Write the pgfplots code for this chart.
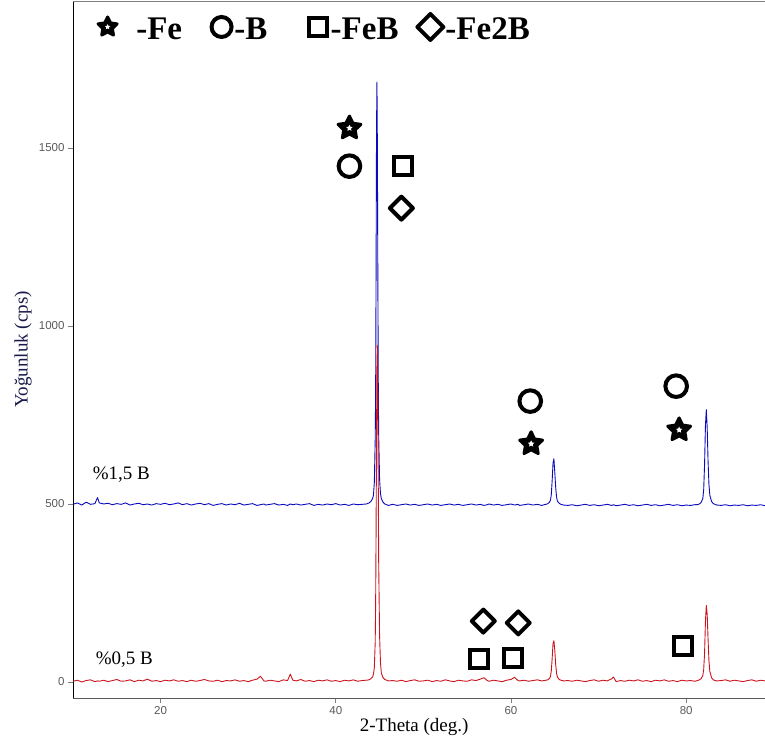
\documentclass[border=0pt]{standalone}
\usepackage{fontspec}
\setmainfont{Liberation Serif}
\newfontfamily\arialf{Liberation Sans}
\usepackage{pgfplots}
\pgfplotsset{compat=1.18}
\usepackage{pgfplotstable}
\definecolor{cblue}{RGB}{10,10,190}
\definecolor{cred}{RGB}{205,20,30}
\definecolor{ylab}{RGB}{25,25,75}

\pgfdeclareplotmark{fstar}{%
  \pgfsetroundjoin
  \pgfsetfillcolor{black}%
  \pgfpathmoveto{\pgfpointpolar{90}{\pgfplotmarksize}}%
  \pgfpathlineto{\pgfpointpolar{126}{0.5\pgfplotmarksize}}%
  \pgfpathlineto{\pgfpointpolar{162}{\pgfplotmarksize}}%
  \pgfpathlineto{\pgfpointpolar{198}{0.5\pgfplotmarksize}}%
  \pgfpathlineto{\pgfpointpolar{234}{\pgfplotmarksize}}%
  \pgfpathlineto{\pgfpointpolar{270}{0.5\pgfplotmarksize}}%
  \pgfpathlineto{\pgfpointpolar{306}{\pgfplotmarksize}}%
  \pgfpathlineto{\pgfpointpolar{342}{0.5\pgfplotmarksize}}%
  \pgfpathlineto{\pgfpointpolar{18}{\pgfplotmarksize}}%
  \pgfpathlineto{\pgfpointpolar{54}{0.5\pgfplotmarksize}}%
  \pgfpathclose
  \pgfusepathqfillstroke
  \pgfsetfillcolor{white}%
  \pgfpathmoveto{\pgfpointpolar{90}{0.28\pgfplotmarksize}}%
  \pgfpathlineto{\pgfpointpolar{126}{0.14\pgfplotmarksize}}%
  \pgfpathlineto{\pgfpointpolar{162}{0.28\pgfplotmarksize}}%
  \pgfpathlineto{\pgfpointpolar{198}{0.14\pgfplotmarksize}}%
  \pgfpathlineto{\pgfpointpolar{234}{0.28\pgfplotmarksize}}%
  \pgfpathlineto{\pgfpointpolar{270}{0.14\pgfplotmarksize}}%
  \pgfpathlineto{\pgfpointpolar{306}{0.28\pgfplotmarksize}}%
  \pgfpathlineto{\pgfpointpolar{342}{0.14\pgfplotmarksize}}%
  \pgfpathlineto{\pgfpointpolar{18}{0.28\pgfplotmarksize}}%
  \pgfpathlineto{\pgfpointpolar{54}{0.14\pgfplotmarksize}}%
  \pgfpathclose
  \pgfusepathqfill
}
\pgfdeclareplotmark{rdiam}{%
  \pgfsetroundjoin
  \pgfpathmoveto{\pgfqpoint{0pt}{\pgfplotmarksize}}%
  \pgfpathlineto{\pgfqpoint{\pgfplotmarksize}{0pt}}%
  \pgfpathlineto{\pgfqpoint{0pt}{-\pgfplotmarksize}}%
  \pgfpathlineto{\pgfqpoint{-\pgfplotmarksize}{0pt}}%
  \pgfpathclose
  \pgfusepathqstroke
}

\pgfplotstableread{
x b r
10.0 499 2
10.5 503 5
11.0 497 0
11.5 505 4
12.0 499 6
12.5 501 1
12.8 518 3
13.0 503 2
13.5 500 5
14.0 502 1
14.5 498 4
15.0 501 7
15.5 499 2
16.0 503 3
16.5 497 6
17.0 500 1
17.5 502 5
18.0 498 3
18.5 500 8
19.0 497 2
19.5 501 4
20.0 499 1
20.5 502 5
21.0 498 3
21.5 500 6
22.0 503 2
22.5 498 4
23.0 501 1
23.5 497 5
24.0 500 2
24.5 502 4
25.0 498 7
25.5 501 3
26.0 496 2
26.5 499 5
27.0 501 1
27.5 497 4
28.0 500 3
28.5 498 6
29.0 502 2
29.5 497 4
30.0 499 1
30.5 501 5
31.0 496 8
31.4 498 16
31.8 500 3
32.0 497 2
32.5 499 5
33.0 501 3
33.5 497 1
34.0 499 6
34.5 496 4
34.8 500 22
35.1 498 5
35.5 500 3
36.0 497 7
36.5 499 2
37.0 501 4
37.5 496 1
38.0 499 5
38.5 497 3
39.0 500 6
39.5 498 2
40.0 501 4
40.5 497 1
41.0 499 5
41.5 496 3
42.0 500 6
42.5 498 2
43.0 499 4
43.5 500 5
43.8 503 6
44.0 507 9
44.2 515 14
44.3 525 22
44.4 560 40
44.5 680 110
44.55 820 220
44.6 1150 420
44.65 1550 680
44.7 1685 890
44.75 1500 945
44.8 1150 800
44.85 850 560
44.9 690 330
45.0 570 130
45.1 530 55
45.2 515 25
45.4 505 12
45.6 500 7
45.8 498 5
46.0 496 3
46.5 499 4
47.0 496 2
47.5 498 5
48.0 500 1
48.5 497 4
49.0 499 6
49.5 496 2
50.0 498 3
50.5 500 5
51.0 497 1
51.5 499 4
52.0 496 2
52.5 498 6
53.0 500 3
53.5 497 1
54.0 499 5
54.5 496 3
55.0 498 2
55.5 500 6
56.0 497 4
56.5 499 8
56.9 496 12
57.3 498 4
57.5 500 2
58.0 497 5
58.5 499 3
59.0 496 1
59.5 498 5
60.0 500 7
60.4 497 13
60.8 499 4
61.0 496 3
61.5 498 5
62.0 500 2
62.5 497 4
63.0 499 6
63.5 496 3
63.8 498 4
64.0 499 5
64.2 501 6
64.4 505 10
64.5 510 15
64.6 525 30
64.7 565 65
64.8 615 108
64.9 627 116
65.0 590 90
65.1 548 50
65.2 520 25
65.3 508 14
65.5 502 7
65.7 499 5
66.0 497 3
66.5 496 4
67.0 498 2
67.5 495 5
68.0 497 3
68.5 499 1
69.0 496 4
69.5 498 6
70.0 495 2
70.5 497 5
71.0 499 3
71.5 496 9
71.7 498 14
72.0 495 1
72.5 497 4
73.0 499 2
73.5 496 5
74.0 498 3
74.5 495 6
75.0 497 2
75.5 499 4
76.0 496 1
76.5 498 5
77.0 495 3
77.5 497 6
78.0 499 2
78.5 496 4
79.0 498 1
79.5 495 5
80.0 497 3
80.5 496 4
81.0 498 2
81.3 498 4
81.5 500 6
81.7 504 9
81.9 515 18
82.0 540 35
82.1 610 80
82.2 720 170
82.3 765 215
82.4 715 190
82.5 620 120
82.6 555 60
82.7 525 30
82.9 507 12
83.1 501 6
83.3 499 4
83.5 497 3
84.0 496 4
84.5 498 6
85.0 495 2
85.5 497 5
86.0 496 3
86.5 498 1
87.0 495 4
87.5 497 6
88.0 496 2
88.5 498 5
89.0 495 3
}\xrd

\begin{document}
\begin{tikzpicture}
\begin{axis}[
  name=ax,
  scale only axis,
  width=692pt, height=697pt,
  xmin=10, xmax=89, ymin=-45, ymax=1913,
  axis x line*=bottom, axis y line*=left,
  axis line style={-},
  x axis line style={gray!70!black, line width=0.9pt},
  y axis line style={black, line width=0.9pt},
  xtick={20,40,60,80}, ytick={0,500,1000,1500},
  tick align=outside, major tick length=5pt,
  tick style={gray, line width=0.7pt},
  /pgf/number format/assume math mode=true,
  /pgf/number format/1000 sep={},
  ticklabel style={font=\arialf\fontsize{11.5}{12}\selectfont, text=gray!70!black},
  xlabel={2-Theta (deg.)},
  ylabel={Yoğunluk (cps)},
  xlabel style={font=\fontsize{19}{20}\selectfont, at={(axis description cs:0.493,-0.041)}, anchor=center},
  ylabel style={font=\fontsize{19}{20}\selectfont, text=ylab, at={(axis description cs:-0.072,0.5)}, anchor=center},
]
\draw[gray, line width=0.9pt] (rel axis cs:0,1) -- (rel axis cs:1,1);
\addplot[cblue, line width=0.9pt, line join=round] table[x=x, y=b] {\xrd};
\addplot[cred, line width=0.9pt, line join=round] table[x=x, y=r] {\xrd};
% annotation symbols
\addplot[only marks, mark=fstar, mark size=12pt, line width=3pt, black] coordinates {(41.56,1556) (62.3,669) (79.2,708)};
\addplot[only marks, mark=o, mark size=10.8pt, line width=4pt, black] coordinates {(41.56,1449) (62.2,789) (78.86,831)};
\addplot[only marks, mark=square, mark size=9pt, line width=4pt, black] coordinates {(47.72,1449) (56.39,65) (60.27,67) (79.66,101)};
\addplot[only marks, mark=rdiam, mark size=11.5pt, line width=4pt, black] coordinates {(47.49,1331) (56.84,171) (60.83,166)};
% legend symbols
\addplot[only marks, mark=fstar, mark size=10pt, line width=3pt, black] coordinates {(13.95,1840)};
\addplot[only marks, mark=o, mark size=10pt, line width=4pt, black] coordinates {(26.96,1840)};
\addplot[only marks, mark=square, mark size=9pt, line width=4pt, black] coordinates {(38.0,1840)};
\addplot[only marks, mark=rdiam, mark size=13pt, line width=4pt, black] coordinates {(50.8,1840)};
\node[anchor=base west, font=\fontsize{33}{33}\selectfont\bfseries, inner sep=0pt] at (axis cs:17.2,1806) {-Fe};
\node[anchor=base west, font=\fontsize{33}{33}\selectfont\bfseries, inner sep=0pt] at (axis cs:28.4,1806) {-B};
\node[anchor=base west, font=\fontsize{33}{33}\selectfont\bfseries, inner sep=0pt] at (axis cs:39.4,1806) {-FeB};
\node[anchor=base west, font=\fontsize{33}{33}\selectfont\bfseries, inner sep=0pt] at (axis cs:52.5,1806) {-Fe2B};
% sample labels
\node[anchor=base west, font=\fontsize{19}{20}\selectfont, inner sep=0pt] at (axis cs:12.24,570) {\%1,5 B};
\node[anchor=base west, font=\fontsize{19}{20}\selectfont, inner sep=0pt] at (axis cs:12.59,48) {\%0,5 B};
\end{axis}
\pgfresetboundingbox
\path ([xshift=-73pt,yshift=-45pt]ax.south west) rectangle ([yshift=1pt]ax.north east);
\end{tikzpicture}
\end{document}
